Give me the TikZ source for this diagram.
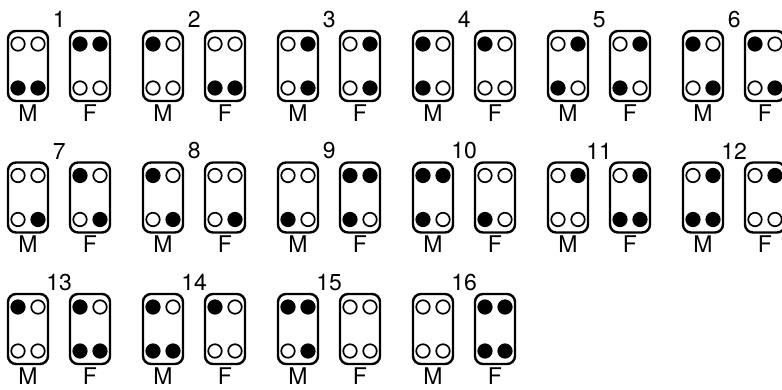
\documentclass[tikz,border=0pt]{standalone}
\usepackage{fontspec}
\setmainfont{TeX Gyre Heros}
\usetikzlibrary{calc}

\begin{document}
\begin{tikzpicture}[x=1pt, y=-1pt,
    card/.style={draw, rounded corners=8pt, line width=2.4pt, minimum width=40pt, minimum height=70pt, inner sep=0pt},
    dot0/.style={draw, circle, line width=1.7pt, minimum size=13.5pt, inner sep=0pt, fill=white},
    dot1/.style={dot0, fill=black},
    sex/.style={font=\fontsize{23}{23}\selectfont, anchor=north, inner sep=0pt},
    num/.style={font=\fontsize{23}{23}\selectfont, anchor=south, inner sep=0pt}
]
\useasboundingbox (0,0) rectangle (782,390);
% pair number / male dots (TL,TR,BL,BR) / female dots
\foreach \n/\mm/\ff in {1/{0,0,1,1}/{1,1,0,0}, 2/{1,0,0,0}/{0,0,1,1},
    3/{0,1,0,1}/{0,1,0,1}, 4/{1,0,1,0}/{1,0,0,0},
    5/{0,1,1,0}/{0,1,1,0}, 6/{1,0,0,1}/{1,0,0,1},
    7/{0,0,0,1}/{1,0,0,1}, 8/{1,0,0,1}/{0,0,0,1},
    9/{0,0,1,0}/{1,1,1,0}, 10/{1,1,1,0}/{0,0,1,0},
    11/{0,1,0,0}/{0,1,1,1}, 12/{0,1,1,1}/{0,1,0,0},
    13/{1,0,0,0}/{1,0,1,1}, 14/{1,0,1,1}/{1,0,0,0},
    15/{1,1,0,1}/{0,0,0,0}, 16/{0,0,0,0}/{1,1,1,1}} {
  \pgfmathsetmacro\xx{28+135*mod(\n-1,6)}
  \pgfmathsetmacro\yy{66+131.5*int((\n-1)/6)}
  \node[card] (m\n) at (\xx,\yy) {};
  \node[card] (f\n) at (\xx+62,\yy) {};
  \foreach \v [count=\k] in \mm {
    \pgfmathsetmacro\dx{ifthenelse(mod(\k,2)==1,-10,10)}
    \pgfmathsetmacro\dy{ifthenelse(\k<3,-22,22)}
    \node[dot\v] (m\n-\k) at ($(m\n)+(\dx,\dy)$) {};
  }
  \foreach \v [count=\k] in \ff {
    \pgfmathsetmacro\dx{ifthenelse(mod(\k,2)==1,-10,10)}
    \pgfmathsetmacro\dy{ifthenelse(\k<3,-22,22)}
    \node[dot\v] (f\n-\k) at ($(f\n)+(\dx,\dy)$) {};
  }
  \node[sex] (ml\n) at ($(m\n.south)+(0,2)$) {M};
  \node[sex] (fl\n) at ($(f\n.south)+(0,2)$) {F};
  \node[num] (num\n) at ($(m\n.north east)+(10,-2)$) {\n};
}
\end{tikzpicture}
\end{document}
